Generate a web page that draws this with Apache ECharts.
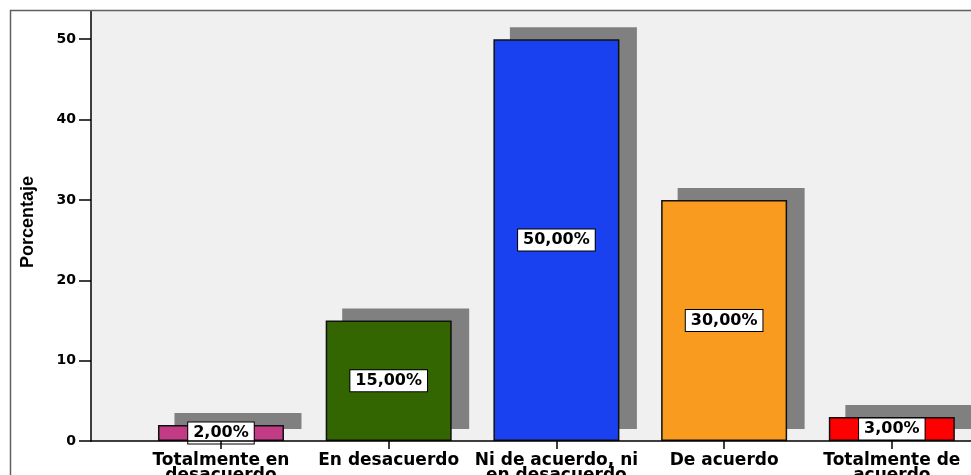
<!DOCTYPE html>
<html>
<head>
<meta charset="utf-8">
<script src="https://cdn.jsdelivr.net/npm/echarts@6/dist/echarts.min.js"></script>
<style>
html,body{margin:0;padding:0;background:#fff;}
#chart{width:971px;height:475px;}
</style>
</head>
<body>
<div id="chart"></div>
<script>
var categories = ['Totalmente en\ndesacuerdo', 'En desacuerdo', 'Ni de acuerdo, ni\nen desacuerdo', 'De acuerdo', 'Totalmente de\nacuerdo'];
var values = [2, 15, 50, 30, 3];
var labels = ['2,00%', '15,00%', '50,00%', '30,00%', '3,00%'];
var colors = ['#c23c85', '#336600', '#1a41f0', '#f99b1f', '#ff0000'];
var yTicks = [0, 10, 20, 30, 40, 50];
var xTicks = [0, 1, 2, 3, 4];

var X_MIN = -0.775, X_MAX = 4.472, Y_MAX = 53.5;

var chart = echarts.init(document.getElementById('chart'), null, {renderer: 'canvas'});
var data = values.map(function (v, i) {
  return {
    value: [i, v],
    itemStyle: {color: colors[i]},
    label: {formatter: labels[i]}
  };
});
var shadowData = values.map(function (v, i) { return [i, v]; });

chart.setOption({
  animation: false,
  backgroundColor: '#ffffff',
  graphic: [{
    type: 'rect', z: 100, silent: true,
    shape: {x: 10.5, y: 10.5, width: 1200, height: 600},
    style: {fill: 'none', stroke: '#606060', lineWidth: 1.5}
  }],
  grid: [{
    left: 91, right: 0, top: 11, bottom: 34,
    outerBoundsMode: 'none',
    show: true, backgroundColor: '#f0f0f0', borderWidth: 0, z: 0
  }, {
    left: 108, right: -17, top: -1, bottom: 46,
    outerBoundsMode: 'none',
    show: false
  }],
  xAxis: [{
    type: 'value', gridIndex: 0,
    min: X_MIN, max: X_MAX,
    splitLine: {show: false},
    axisLine: {show: true, onZero: false, lineStyle: {color: '#000', width: 1.5}},
    axisTick: {show: true, customValues: xTicks, length: 8, lineStyle: {color: '#000', width: 1.5}},
    axisLabel: {
      customValues: xTicks,
      formatter: function (v) { return categories[Math.round(v)]; },
      color: '#000', fontFamily: 'DejaVu Sans', fontWeight: 'bold', fontSize: 17,
      lineHeight: 15, margin: 12
    },
    z: 5
  }, {
    type: 'value', gridIndex: 1, show: false,
    min: X_MIN, max: X_MAX
  }],
  yAxis: [{
    type: 'value', gridIndex: 0,
    min: 0, max: Y_MAX,
    name: 'Porcentaje',
    nameLocation: 'middle',
    nameGap: 54,
    nameRotate: 90,
    nameTextStyle: {color: '#000', fontFamily: '"Liberation Sans Narrow", "Arial Narrow", "Liberation Sans", Arial, sans-serif', fontWeight: 'bold', fontSize: 18, padding: [0, 0, 0, 8]},
    splitLine: {show: false},
    axisLine: {show: true, onZero: false, lineStyle: {color: '#000', width: 1.5}},
    axisTick: {show: true, customValues: yTicks, length: 12, lineStyle: {color: '#000', width: 1.5}},
    axisLabel: {
      customValues: yTicks,
      color: '#000', fontFamily: 'DejaVu Sans', fontWeight: 'bold', fontSize: 14, margin: 15
    },
    z: 5
  }, {
    type: 'value', gridIndex: 1, show: false,
    min: 0, max: Y_MAX
  }],
  series: [{
    type: 'bar',
    xAxisIndex: 1, yAxisIndex: 1,
    barWidth: 127,
    data: shadowData,
    itemStyle: {color: '#808080'},
    z: 1,
    silent: true
  }, {
    type: 'bar',
    xAxisIndex: 0, yAxisIndex: 0,
    barWidth: 126,
    data: data,
    z: 2,
    itemStyle: {borderColor: '#111', borderWidth: 1.5},
    label: {
      show: true, position: 'inside',
      color: '#000', fontFamily: 'DejaVu Sans', fontWeight: 'bold', fontSize: 16,
      backgroundColor: '#fff', borderColor: '#000', borderWidth: 1,
      padding: [3, 5, 2, 5]
    }
  }]
});
</script>
</body>
</html>
